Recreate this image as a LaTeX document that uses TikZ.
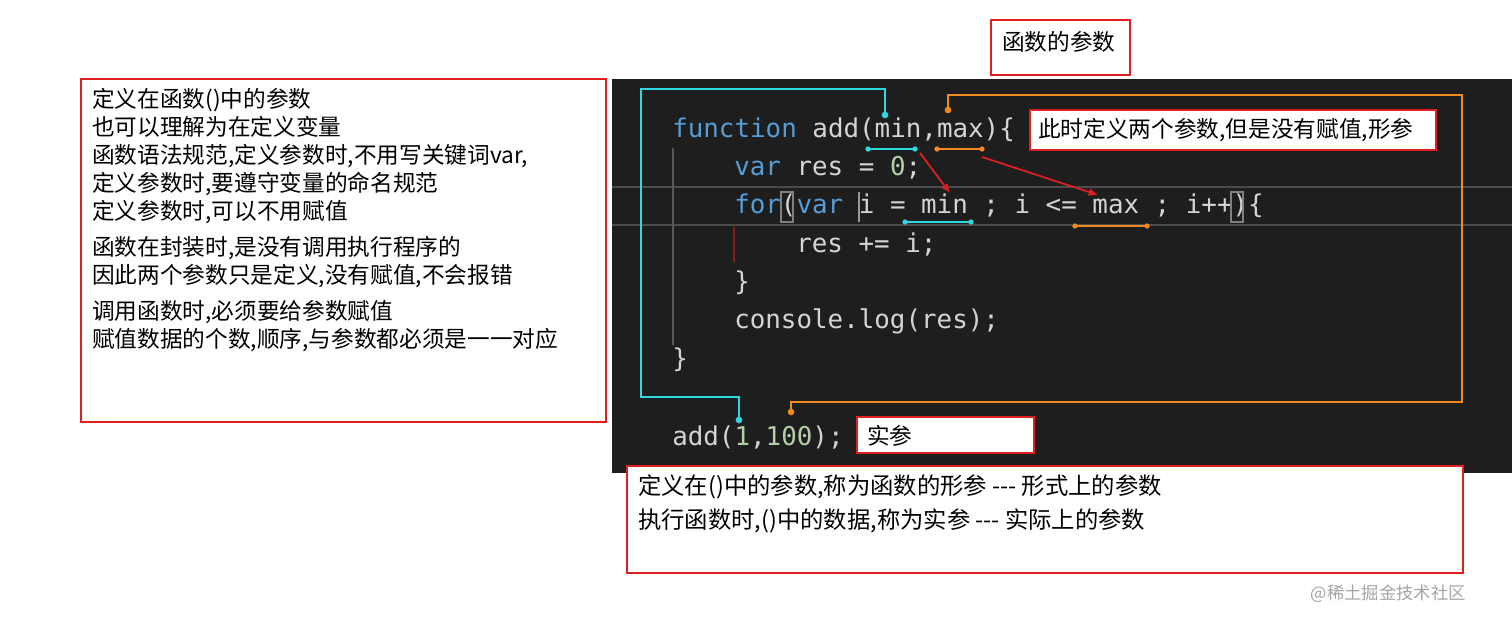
\documentclass[tikz,border=0pt]{standalone}
\usepackage{fontspec}
\usetikzlibrary{arrows.meta}
\setmainfont{Liberation Sans}
\newfontfamily\cjk{Noto Sans CJK SC}
\newfontfamily\code{DejaVu Sans Mono}
\definecolor{bg}{HTML}{1E1E1E}
\definecolor{kw}{HTML}{569CD6}
\definecolor{tx}{HTML}{D4D4D4}
\definecolor{nm}{HTML}{B5CEA8}
\definecolor{cy}{HTML}{2ED8E0}
\definecolor{og}{HTML}{F08A1C}
\definecolor{rb}{HTML}{E02020}
\tikzset{
 redbox/.style={draw=rb,line width=1.5,fill=white},
 cl/.style={anchor=west,inner sep=0,text=tx,font=\code\fontsize{19.4}{20}\selectfont},
 note/.style={anchor=north west,align=left,inner sep=0,font=\cjk\fontsize{17}{21}\selectfont},
 cyl/.style={draw=cy,line width=1.6},
 ogl/.style={draw=og,line width=1.6},
 dot/.style={circle,inner sep=0,minimum size=5pt},
}
\begin{document}
\begin{tikzpicture}[x=0.75pt,y=-0.75pt]
\useasboundingbox (0,0) rectangle (1512,623);
\fill[white] (0,0) rectangle (1512,623);
% dark panel
\fill[bg] (612,79) rectangle (1512,473);
\draw[white!20!bg,line width=0.8] (612,187) -- (1512,187) (612,225) -- (1512,225);
\draw[gray!60!bg,line width=1] (673,148) -- (673,345);
\draw[rb!50!bg,line width=1] (734,227) -- (734,262);
% code
\node[cl] (l1) at (672,130) {\textcolor{kw}{function} add(min,max)\{};
\node[cl] (l2) at (734,168) {\textcolor{kw}{var} res = \textcolor{nm}{0};};
\node[cl] (l3) at (734,206) {\textcolor{kw}{for}(\textcolor{kw}{var} i = min ; i <= max ; i++)\{};
\node[cl] (l4) at (796,244) {res += i;};
\node[cl] (l5) at (734,283) {\}};
\node[cl] (l6) at (734,321) {console.log(res);};
\node[cl] (l7) at (672,360) {\}};
\node[cl] (l8) at (672,437) {add(\textcolor{nm}{1},\textcolor{nm}{100});};
\draw[gray,line width=1] (781,192) rectangle (793,222) (1231,192) rectangle (1243,222);
\draw[gray!80!white,line width=1.5] (859,192) -- (859,222);
% brackets / leaders
\coordinate (c1) at (885,115); \coordinate (c2) at (739,420);
\node[dot,fill=cy] at (c1) {}; \node[dot,fill=cy] at (c2) {};
\draw[cyl] (c1) -- (885,89) -- (641,89) -- (641,397) -- (739,397) -- (c2);
\coordinate (o1) at (948,110); \coordinate (o2) at (791,412);
\node[dot,fill=og] at (o1) {}; \node[dot,fill=og] at (o2) {};
\draw[ogl] (o1) -- (948,95) -- (1462,95) -- (1462,402) -- (791,402) -- (o2);
\coordinate (u1a) at (868,149); \coordinate (u1b) at (915,149);
\coordinate (u2a) at (937,149); \coordinate (u2b) at (982,149);
\coordinate (u3a) at (905,222); \coordinate (u3b) at (971,222);
\coordinate (u4a) at (1075,226); \coordinate (u4b) at (1147,226);
\draw[cyl] (u1a) -- (u1b) (u3a) -- (u3b);
\draw[ogl] (u2a) -- (u2b) (u4a) -- (u4b);
\foreach \p in {u1a,u1b,u3a,u3b}{\node[dot,fill=cy,minimum size=4pt] at (\p) {};}
\foreach \p in {u2a,u2b,u4a,u4b}{\node[dot,fill=og,minimum size=4pt] at (\p) {};}
\coordinate (a1) at (920,153); \coordinate (a2) at (950,193);
\coordinate (a3) at (982,157); \coordinate (a4) at (1098,195);
\draw[rb,line width=1.3,-{Latex[length=7pt,width=6pt]}] (a1) -- (a2);
\draw[rb,line width=1.3,-{Latex[length=7pt,width=6pt]}] (a3) -- (a4);
% boxes
\draw[redbox] (81,79) rectangle (606,422);
\node[note] (left) at (92,88) {定义在函数()中的参数\\也可以理解为在定义变量\\函数语法规范,定义参数时,不用写关键词var,\\定义参数时,要遵守变量的命名规范\\定义参数时,可以不用赋值\\[6pt]函数在封装时,是没有调用执行程序的\\因此两个参数只是定义,没有赋值,不会报错\\[6pt]调用函数时,必须要给参数赋值\\赋值数据的个数,顺序,与参数都必须是一一对应};
\draw[redbox] (991,20) rectangle (1130,75);
\node[note,anchor=west] (top) at (1002,42) {函数的参数};
\draw[redbox] (1030,110) rectangle (1436,150);
\node[note,anchor=west] (xing) at (1038,130) {此时定义两个参数,但是没有赋值,形参};
\draw[redbox] (857,417) rectangle (1034,453);
\node[note,anchor=west] (shi) at (867,436) {实参};
\draw[redbox] (627,466) rectangle (1463,573);
\node[note,font=\cjk\fontsize{17.5}{25.5}\selectfont] (bot) at (638,474) {定义在()中的参数,称为函数的形参 --- 形式上的参数\\执行函数时,()中的数据,称为实参 --- 实际上的参数};
\node[anchor=west,text=gray!70,font=\cjk\fontsize{13}{14}\selectfont] (wm) at (1306,594) {@稀土掘金技术社区};
\end{tikzpicture}
\end{document}
